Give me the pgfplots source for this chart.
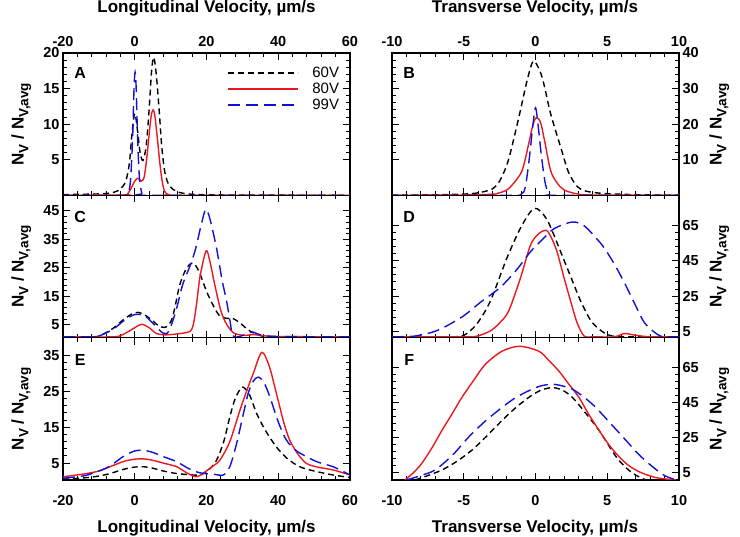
\documentclass[border=0pt]{standalone}
\usepackage{fontspec}
\setmainfont{Liberation Sans}
\usepackage{pgfplots}
\pgfplotsset{compat=1.18}

\definecolor{cred}{RGB}{235,25,30}
\definecolor{cblue}{RGB}{18,18,215}

\newcommand{\sub}[1]{\raisebox{-0.28em}{\fontsize{13.5}{13.5}\selectfont #1}}
\tikzset{letter/.style={font=\bfseries\fontsize{16}{16}\selectfont}}
\pgfplotsset{
  panel/.style={
    scale only axis, width=287pt, height=142.33pt,
    axis line style={line width=1.2pt},
    tick align=inside,
    major tick length=7pt, minor tick length=4pt,
    every tick/.style={line width=1pt, black},
    xtick pos=both, ytick pos=both,
    tick label style={font=\bfseries\fontsize{14.5}{14.5}\selectfont},
    /pgf/number format/assume math mode=true,
    ylabel={N\sub{V} / N\sub{V,avg}},
  },
  left col/.style={xmin=-20, xmax=60, xtick={-20,0,...,60}, minor x tick num=4,
    ylabel style={at={(axis description cs:-0.145,0.5)}, anchor=center, font=\bfseries\fontsize{17}{17}\selectfont}},
  right col/.style={xmin=-10, xmax=10, xtick={-10,-5,...,10}, minor x tick num=4,
    yticklabel pos=right, ytick pos=both,
    ylabel style={at={(axis description cs:1.14,0.5)}, anchor=center, font=\bfseries\fontsize{17}{17}\selectfont}},
  top row/.style={xticklabel pos=upper, xtick pos=both, xticklabel style={yshift=3pt}},
  bottom row/.style={xticklabel style={yshift=-12pt}},
  c60/.style={black, line width=1.4pt, dash pattern=on 6pt off 4pt, smooth},
  c80/.style={cred, line width=1.4pt, smooth},
  c99/.style={cblue, line width=1.4pt, dash pattern=on 12pt off 6pt, smooth},
}

\begin{document}
\begin{tikzpicture}
\useasboundingbox (0,0) rectangle (740pt,537pt);

% ---------- A ----------
\begin{axis}[panel, left col, top row, at={(63pt,341.67pt)}, anchor=south west,
  ymin=0, ymax=20, ytick={5,10,15,20}, minor y tick num=4,
  legend style={draw=none, fill=none, at={(axis description cs:0.98,0.93)}, anchor=north east,
    font=\fontsize{15}{15}\selectfont, row sep=0pt,
    /tikz/every odd column/.append style={column sep=12pt}},
  legend cell align=left,
  legend image code/.code={\draw[#1] (0pt,0pt) -- (70pt,0pt);},
]
\addplot[c60] coordinates {(-20,0.1) (-10,0.2) (-6,0.4) (-4,0.9) (-2.5,2) (-1.5,4.5) (-0.8,8.5) (0,11.5) (0.8,9) (1.5,6) (2.3,4.9) (3.2,7) (4,12) (4.7,17.5) (5.3,19.4) (6,17) (6.8,12) (7.5,7) (8.3,3.5) (9.2,1.8) (10.5,0.9) (12.5,0.4) (16,0.15) (25,0.05) (60,0)};
\addlegendentry{60V}
\addplot[c80] coordinates {(-20,0) (-3,0.05) (-2,0.2) (-1,1) (0,2) (0.9,2.4) (1.8,2.0) (2.6,2.5) (3.3,5) (4,8.5) (4.6,11.2) (5.1,12) (5.6,11.2) (6.3,8) (7,4.5) (7.7,1.8) (8.4,0.5) (9.5,0.1) (12,0) (60,0)};
\addlegendentry{80V}
\addplot[c99] coordinates {(-20,0) (-3,0) (-1.9,0.2) (-1.2,2) (-0.6,8) (-0.2,15) (0.1,17.3) (0.4,15) (0.8,8) (1.3,2.5) (2,0.3) (3,0) (60,0)};
\addlegendentry{99V}
\node[letter] at (axis description cs:0.06,0.86) {A};
\end{axis}

% ---------- B ----------
\begin{axis}[panel, right col, top row, at={(392pt,341.67pt)}, anchor=south west,
  ymin=0, ymax=40, ytick={10,20,30,40}, minor y tick num=4]
\addplot[c60] coordinates {(-10,0.05) (-7,0.15) (-5,0.35) (-4,0.7) (-3,1.8) (-2.5,4) (-2,8.5) (-1.65,13.6) (-1.1,23) (-0.6,32) (-0.16,37.7) (0.3,35) (0.6,31) (1.05,23) (1.75,13.6) (2.3,6.5) (2.9,2.5) (3.5,1.2) (4.5,0.6) (6,0.3) (8,0.1) (10,0.05)};
\addplot[c80] coordinates {(-10,0) (-5,0.1) (-3,0.3) (-2.6,0.6) (-2,1.5) (-1.5,3.5) (-0.93,7) (-0.5,14) (-0.2,19.5) (0.05,21.8) (0.35,20.5) (0.65,15) (1.05,7) (1.5,3.5) (2,1.5) (2.9,0.4) (4,0.1) (10,0)};
\addplot[c99] coordinates {(-10,0) (-2,0) (-1,0.3) (-0.7,2.5) (-0.42,10.8) (-0.2,19) (0,24.6) (0.2,19) (0.42,10.8) (0.7,3) (1,0.4) (1.5,0) (10,0)};
\node[letter] at (axis description cs:0.06,0.86) {B};
\end{axis}

% ---------- C ----------
\begin{axis}[panel, left col, at={(63pt,199.33pt)}, anchor=south west,
  xticklabels={},
  ymin=0.5, ymax=50.5, ytick={5,15,25,35,45}, minor y tick num=4]
\addplot[c60] coordinates {(-20,0.8) (-12,0.8) (-9.7,1.2) (-6,3.8) (-3,7) (0,9.3) (2,9) (4.5,7) (6.5,4.8) (8.4,4.1) (10,6) (11,10) (12.6,19.3) (14.5,25) (16.3,26.7) (18,23.5) (20,16.8) (22,11.5) (23.7,8.1) (25.5,7.3) (27.4,7.2) (29.5,5.5) (32,2.9) (35.7,1) (40,0.8) (60,0.8)};
\addplot[c80] coordinates {(-20,0.8) (-6,0.8) (-3,1.8) (0,4) (1.9,5.2) (4,4) (6,2) (8.4,1.5) (11,1.7) (13.5,2.1) (15.4,2.7) (16.3,5) (17.2,12) (18.2,22) (19.9,31) (21,27) (22.3,19.1) (24,10) (25.6,5.2) (27.5,2.2) (29.3,1.5) (31,1.3) (33,1.6) (35,1.3) (40,0.9) (60,0.8)};
\addplot[c99] coordinates {(-20,0.8) (-12,0.8) (-9.7,1.2) (-6,3.5) (-3,6.5) (-0.5,8.4) (1,8.7) (3,8) (5.5,5) (7.9,2.1) (9.5,2.8) (11.5,10) (13.4,19.3) (15.5,26) (17,31.9) (18.5,40) (19.8,45.6) (21,42) (22.8,31.9) (24.3,21) (25.6,13.3) (26.6,6) (27.3,1.2) (29,0.8) (31,1.8) (32.9,2.5) (35,1.5) (40,0.9) (60,0.8)};
\node[letter] at (axis description cs:0.06,0.845) {C};
\end{axis}

% ---------- D ----------
\begin{axis}[panel, right col, at={(392pt,199.33pt)}, anchor=south west,
  xticklabels={},
  ymin=1.7, ymax=81.7, ytick={5,25,45,65}, minor y tick num=4]
\addplot[c60] coordinates {(-10,2.2) (-6,2.2) (-5,3) (-4.1,9.3) (-3.15,22.2) (-2,46.3) (-1,64) (-0.07,74.4) (0.8,68) (1.75,50) (2.5,35) (3.15,22.2) (3.8,12) (4.3,7.4) (5,3.5) (6,2.2) (10,2.2)};
\addplot[c80] coordinates {(-10,2.2) (-5,2.2) (-4.1,2.5) (-3.15,5.5) (-2.5,10) (-1.87,16.7) (-1.05,35.2) (-0.35,53.7) (0.2,60) (0.75,62) (1.1,58) (1.5,50) (2,35) (2.45,22.2) (2.9,10) (3.4,2.5) (4,2.2) (5.5,2.2) (6.2,4) (7,3) (8,2.2) (10,2.2)};
\addplot[c99] coordinates {(-10,2.2) (-8.5,2.5) (-7.3,4.5) (-6.4,7.4) (-5,14) (-3.85,21.5) (-2.45,30) (-1.3,40) (-0.35,50) (0.5,57) (1.3,63) (2.57,66.7) (3.4,64.5) (4.3,57) (4.8,52) (5.5,43) (6.2,32.5) (6.9,21) (7.6,10) (8.5,3.5) (9,2.2) (10,2.2)};
\node[letter] at (axis description cs:0.06,0.845) {D};
\end{axis}

% ---------- E ----------
\begin{axis}[panel, left col, bottom row, at={(63pt,57pt)}, anchor=south west,
  ymin=0.3, ymax=40, ytick={5,15,25,35}, minor y tick num=4]
\addplot[c60] coordinates {(-20,0.5) (-14,0.9) (-10,1.4) (-6.9,2.1) (-3,3.3) (0,3.9) (2.4,4) (5,3.6) (8,2.8) (11.7,2.1) (15,1.8) (18.2,1.7) (20.5,3) (22.8,5.8) (24.8,11) (26.5,17.9) (28,23) (30,26.2) (32,24) (34,18.8) (36.5,14) (39.5,9.5) (42.5,6.3) (46,4) (50,2.8) (55.3,1.7) (60,1)};
\addplot[c80] coordinates {(-20,1.2) (-14,2) (-10,2.8) (-6.9,4) (-3,5.5) (0,6.1) (2.4,6.2) (5,5.8) (8,5) (11.7,4) (14.5,2.3) (17.2,1.2) (19.5,2.5) (21.5,4) (23.7,5.8) (26.5,11) (29.3,19.7) (31.5,26) (33,29.9) (35.4,35.9) (37.5,32) (39.5,24.4) (41.5,16.5) (43.2,11.4) (45.5,7.5) (47.9,4.9) (51,3.9) (55.3,3.1) (60,1.7)};
\addplot[c99] coordinates {(-20,0.8) (-14,1.5) (-10,2.8) (-6.9,4.2) (-3,7) (0,8.4) (2.4,8.6) (5,8) (8,6.8) (11.7,5.4) (15,3.5) (18.2,2.3) (22,1.9) (24.7,1.7) (26.5,4) (28.4,10.5) (30,17.5) (31.6,24.4) (33,27.8) (34.4,29) (36,27.5) (37.7,23.4) (40,16.5) (42.3,11.4) (45,8.5) (47.9,6.8) (51,5.3) (55.3,4) (60,1.7)};
\node[letter] at (axis description cs:0.06,0.845) {E};
\end{axis}

% ---------- F ----------
\begin{axis}[panel, right col, bottom row, at={(392pt,57pt)}, anchor=south west,
  ymin=1, ymax=82, ytick={5,25,45,65}, minor y tick num=4]
\addplot[c60] coordinates {(-8.4,1) (-7.5,3.5) (-6.52,6.7) (-5.5,11.5) (-4.43,18) (-3.4,26) (-2.33,34.9) (-1.4,42) (-0.47,48) (0.35,52) (1.17,53.6) (1.9,52) (2.57,48) (3.5,39) (4.43,29.2) (5.15,20) (5.83,12) (6.77,4.8) (7.7,1)};
\addplot[c80] coordinates {(-9.1,1) (-8.5,5.2) (-7.92,10.5) (-7.2,19.5) (-6.52,29.2) (-5.8,38.8) (-5.13,48) (-4.3,57.8) (-3.5,66.8) (-2.33,74.3) (-1.12,77.1) (0.23,74.3) (0.9,69.3) (1.63,63) (2.3,55.8) (3.03,48) (3.7,38.5) (4.43,29.2) (5.1,21.2) (5.83,14.2) (6.5,9.2) (7.22,5.7) (8,3.3) (8.62,2) (9.8,1)};
\addplot[c99] coordinates {(-9,1) (-8,3.5) (-7,6.7) (-5.8,15) (-4.66,25.4) (-3.5,34.5) (-2.33,42.3) (-1.4,47.8) (-0.47,51.8) (0.35,54.5) (1.17,55.5) (1.9,54.5) (2.57,52.7) (3.4,48) (4.2,42.3) (5.25,33) (6.3,23.6) (7.2,15.5) (8.16,8.5) (9,3.5) (9.8,1)};
\node[letter] at (axis description cs:0.06,0.845) {F};
\end{axis}

\node[font=\bfseries\fontsize{17}{17}\selectfont] at (206.5pt,529pt) {Longitudinal Velocity, µm/s};
\node[font=\bfseries\fontsize{17}{17}\selectfont] at (535pt,529pt) {Transverse Velocity, µm/s};
\node[font=\bfseries\fontsize{17}{17}\selectfont] at (206.5pt,9pt) {Longitudinal Velocity, µm/s};
\node[font=\bfseries\fontsize{17}{17}\selectfont] at (535pt,9pt) {Transverse Velocity, µm/s};
\end{tikzpicture}
\end{document}
